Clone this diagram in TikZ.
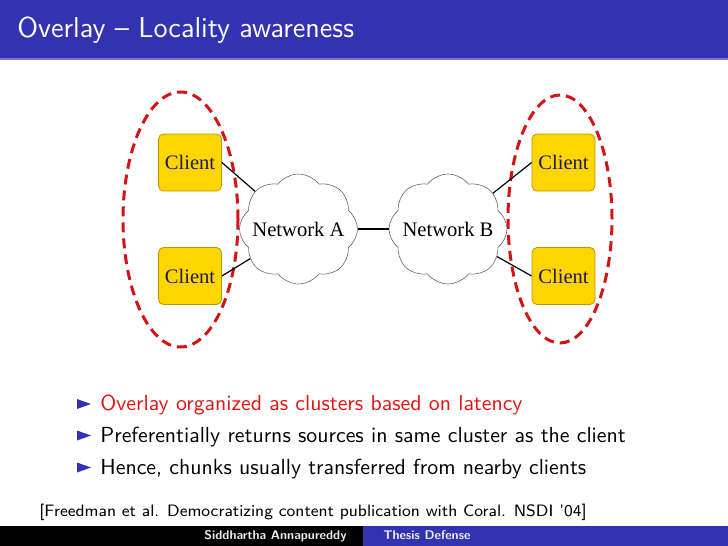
\documentclass[tikz,border=0pt]{standalone}
\usepackage{fontspec}
\newfontfamily\diagfont{Liberation Serif}
\usetikzlibrary{shapes.geometric,shapes.symbols}
\definecolor{struct}{RGB}{51,51,178}
\definecolor{structlight}{RGB}{120,120,210}
\definecolor{clientfill}{RGB}{255,213,0}
\definecolor{clientdraw}{RGB}{190,150,0}
\definecolor{clienttext}{RGB}{30,25,95}
\definecolor{clusterred}{RGB}{210,20,20}
\definecolor{alertred}{RGB}{225,20,20}
\definecolor{footgray}{RGB}{235,235,235}
\tikzset{
  client/.style={rectangle, rounded corners=2.5pt, fill=clientfill, draw=clientdraw, line width=0.4pt,
    minimum width=31.5pt, minimum height=28.5pt, inner sep=0pt, text=clienttext, font=\diagfont\fontsize{10.3}{12}\selectfont},
  network/.style={cloud, cloud puffs=8, cloud puff arc=105, aspect=1.07, draw=black!60, line width=0.3pt, fill=white,
    minimum width=59pt, minimum height=55pt, inner sep=0pt},
  nettext/.style={inner sep=0pt, font=\diagfont\fontsize{10.3}{12}\selectfont},
  link/.style={draw=black, line width=0.6pt},
  cluster/.style={ellipse, draw=clusterred, line width=1.5pt, dash pattern=on 5pt off 3pt, inner sep=0pt},
  bullettext/.style={anchor=base west, inner sep=0pt, font=\sffamily\fontsize{10.9}{13}\selectfont},
  bulletmark/.style={fill=struct},
  foottext/.style={inner sep=0pt, text=footgray, font=\sffamily\bfseries\fontsize{6.3}{7}\selectfont},
}
\begin{document}
\begin{tikzpicture}[x=0.5pt,y=-0.5pt]
\useasboundingbox (0,0) rectangle (728,546);
% title bar
\fill[struct] (0,0) rectangle (728,59);
\fill[structlight] (0,58) rectangle (728,59.5);
\node[anchor=base west, inner sep=0pt, text=white, font=\sffamily\fontsize{14.4}{17}\selectfont] (title) at (17,37) {Overlay -- Locality awareness};
% clusters
\node[cluster, minimum width=57.5pt, minimum height=127.5pt] (clusterL) at (180.5,219.5) {};
\node[cluster, minimum width=52pt, minimum height=124pt] (clusterR) at (560,219) {};
% networks
\node[network] (netA) at (298.5,229) {};
\node[nettext] (netAt) at (netA.center) {Network A};
\node[network] (netB) at (448,229) {};
\node[nettext] (netBt) at (netB.center) {Network B};
% clients
\node[client] (cA1) at (190,162.5) {Client};
\node[client] (cA2) at (190,276) {Client};
\node[client] (cB1) at (563.5,162.5) {Client};
\node[client] (cB2) at (563.5,276) {Client};
% links
\draw[link] (cA1.east) -- (netA);
\draw[link] (cA2.east) -- (netA);
\draw[link] (cB1.west) -- (netB);
\draw[link] (cB2.west) -- (netB);
\draw[link] (netA) -- (netB);
% bullets
\fill[bulletmark] (77,399) -- (91,404) -- (77,409) -- cycle;
\fill[bulletmark] (77,430.5) -- (91,435.5) -- (77,440.5) -- cycle;
\fill[bulletmark] (77,462.5) -- (91,467.5) -- (77,472.5) -- cycle;
\node[bullettext, text=alertred] (b1) at (100,410) {Overlay organized as clusters based on latency};
\node[bullettext] (b2) at (100,442.5) {Preferentially returns sources in same cluster as the client};
\node[bullettext] (b3) at (100,474.5) {Hence, chunks usually transferred from nearby clients};
\node[anchor=base west, inner sep=0pt, font=\sffamily\fontsize{8.25}{10}\selectfont] (cite) at (39,516) {[Freedman et al. Democratizing content publication with Coral. NSDI '04]};
% footline
\fill[black] (0,526) rectangle (363,546);
\fill[struct] (363,526) rectangle (728,546);
\node[foottext, anchor=base east] (author) at (347,539) {Siddhartha Annapureddy};
\node[foottext, anchor=base west] (talk) at (383,539) {Thesis Defense};
\end{tikzpicture}
\end{document}
